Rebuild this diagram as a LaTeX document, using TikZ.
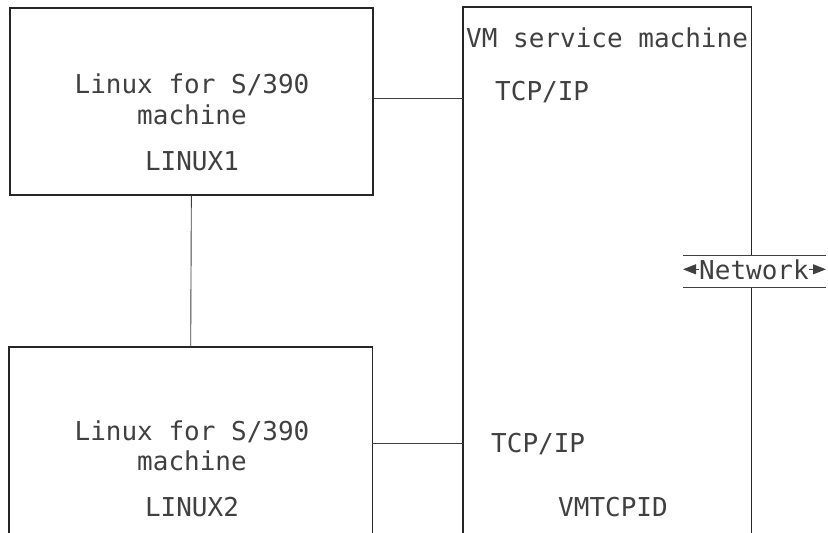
\documentclass[tikz,border=0pt]{standalone}
\usepackage{fontspec}
\newfontfamily\diagmono{DejaVu Sans Mono}
\usetikzlibrary{arrows.meta}
\begin{document}
\begin{tikzpicture}[x=1pt,y=-1pt,
  txt/.style={font=\fontsize{26}{26}\diagmono, inner sep=0pt, text=black!75},
  frame/.style={line width=1.7pt, draw=black!85},
  link/.style={line width=0.9pt, draw=black!75},
  boxshape/.style={inner sep=0pt, anchor=north west}]
\useasboundingbox (0,0) rectangle (828,533);
% boxes
\node[boxshape, draw, frame, minimum width=363pt, minimum height=187pt] (l1) at (9,7) {};
\node[boxshape, minimum width=363pt, minimum height=192pt] (l2) at (9,347) {};
\node[boxshape, minimum width=288pt, minimum height=532pt] (vm) at (463,7) {};
\coordinate (ntop) at (0,255);
\coordinate (nbot) at (0,287);
\draw[frame] (l2.south west) |- (l2.north east) -- (l2.south east);
\draw[frame] (vm.south west) |- (vm.north east) -- (vm.east |- ntop);
\draw[frame] (vm.east |- nbot) -- (vm.south east);
% texts box 1
\node[txt, anchor=base] (l1a) at (192,93) {Linux for S/390};
\node[txt, anchor=base] (l1b) at (192,124) {machine};
\node[txt, anchor=base] (l1c) at (192,170) {LINUX1};
% texts box 2
\node[txt, anchor=base] (l2a) at (192,440) {Linux for S/390};
\node[txt, anchor=base] (l2b) at (192,470) {machine};
\node[txt, anchor=base] (l2c) at (192,516) {LINUX2};
% VM texts
\node[txt, anchor=base west] (vmt) at (466,47) {VM service machine};
\node[txt, anchor=base west] (tcp1) at (495,100) {TCP/IP};
\node[txt, anchor=base west] (tcp2) at (491,452) {TCP/IP};
\node[txt, anchor=base west] (vmid) at (558,516) {VMTCPID};
% connectors
\draw[link] (l1.east |- 0,98) coordinate (c1) -- (vm.west |- c1);
\draw[link] (l2.east |- 0,443) coordinate (c2) -- (vm.west |- c2);
\draw[link] (l1.south) -- (l2.north);
% network
\node[txt, anchor=base west] (net) at (699,279) {Network};
\coordinate (nl) at (683,0);
\coordinate (nr) at (826,0);
\draw[link] (nl |- ntop) -- (nr |- ntop);
\draw[link] (nl |- nbot) -- (nr |- nbot);
\draw[link, -{Triangle[length=13pt,width=10pt]}] (net.west) -- (net.west -| nl);
\draw[link, -{Triangle[length=13pt,width=10pt]}] (net.east) -- (net.east -| nr);
\end{tikzpicture}
\end{document}
